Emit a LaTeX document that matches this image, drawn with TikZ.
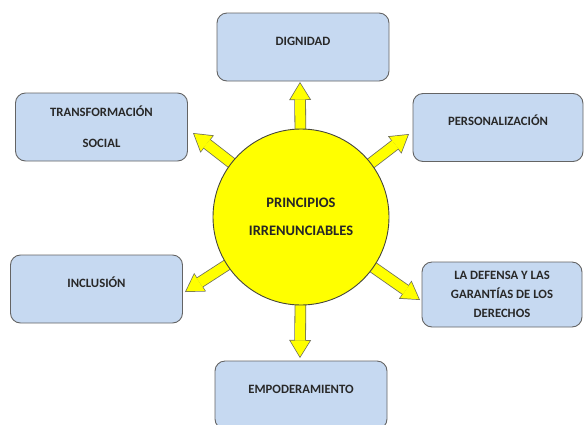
\documentclass[tikz,border=0pt]{standalone}
\usepackage{fontspec}
\setmainfont{Carlito}
\usetikzlibrary{arrows.meta,backgrounds}

\definecolor{cajafill}{RGB}{198,217,241}
\definecolor{cajaline}{RGB}{100,100,100}
\definecolor{sol}{RGB}{255,255,0}
\definecolor{solline}{RGB}{70,70,60}
\definecolor{rayoline}{RGB}{110,110,90}
\definecolor{texto}{RGB}{40,40,40}

\begin{document}
\begin{tikzpicture}[x=1pt, y=-1pt,
  caja/.style={rectangle, rounded corners=10pt, draw=cajaline, line width=0.9pt,
    fill=cajafill, minimum width=172pt, minimum height=68pt, text=texto,
    font=\fontsize{12.7}{15.2}\selectfont\bfseries, align=center},
  una/.style={text height=8pt, text depth=12pt},
  rayo/.style={draw=sol, line width=10pt,
    -{Triangle[width=19.4pt, length=15.9pt, line width=0pt]}, shorten >=1.4pt,
    preaction={draw=rayoline, line width=11.6pt,
      -{Triangle[width=22pt, length=18pt, line width=0pt]}, shorten >=0pt}}]

\useasboundingbox (0,0) rectangle (584,424);

\node [circle, draw=solline, line width=0.9pt, fill=sol, minimum size=176pt,
  font=\fontsize{14.5}{17.4}\selectfont\bfseries, text=black!85, align=center]
  (pc) at (301, 217) {PRINCIPIOS\\[11pt]IRRENUNCIABLES};

\node [caja, una] (dig) at (303, 47) {DIGNIDAD};
\node [caja] (trans) at (101.5, 127) {TRANSFORMACIÓN\\[15.8pt]SOCIAL};
\node [caja, una, minimum width=170pt] (pers) at (498, 127.5) {PERSONALIZACIÓN};
\node [caja, una] (incl) at (96.5, 289) {INCLUSIÓN};
\node [caja, minimum width=160pt, minimum height=65pt] (def) at (502, 294.5)
  {LA DEFENSA Y LAS\\[3.8pt]GARANTÍAS DE LOS\\[3.8pt]DERECHOS};
\node [caja, una] (emp) at (301, 395) {EMPODERAMIENTO};

\coordinate (tdig) at (300, 82);
\coordinate (ttrans) at (193, 133);
\coordinate (tpers) at (409, 134);
\coordinate (tincl) at (185, 292);
\coordinate (tdef) at (420, 300);
\coordinate (temp) at (300, 358);

\begin{scope}[on background layer]
\draw [rayo] (pc.center) -- (tdig);
\draw [rayo] (pc.center) -- (ttrans);
\draw [rayo] (pc.center) -- (tpers);
\draw [rayo] (pc.center) -- (tincl);
\draw [rayo] (pc.center) -- (tdef);
\draw [rayo] (pc.center) -- (temp);
\end{scope}

\end{tikzpicture}
\end{document}
